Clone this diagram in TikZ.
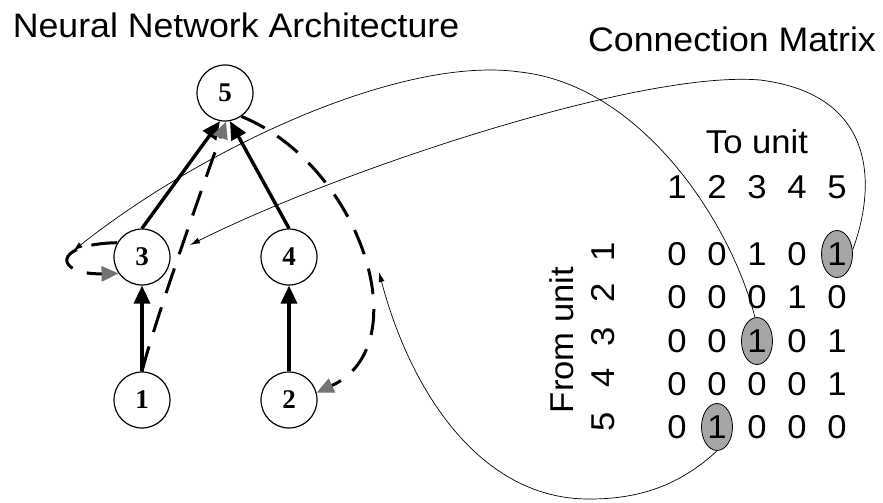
\documentclass[tikz,border=0pt]{standalone}
\usepackage{fontspec}
\setmainfont{Liberation Sans}
\newfontfamily\labelfont[FakeStretch=1.05]{Liberation Sans}
\newfontfamily\unitfont{Liberation Serif}
\usetikzlibrary{arrows.meta,shapes.geometric}

\begin{document}
\begin{tikzpicture}[x=1pt,y=-1pt,
  neuron/.style={circle,draw,line width=1.2pt,minimum size=56pt,inner sep=0pt,
    font=\unitfont\bfseries\fontsize{27}{27}\selectfont},
  feed/.style={line width=3.4pt,-{Triangle[length=18pt,width=16pt]}},
  recur/.style={line width=3pt,dash pattern=on 26pt off 15pt,
    -{Triangle[length=17pt,width=15pt,color=black!55]}},
  pointer/.style={line width=0.7pt,-{Latex[length=10pt,width=6pt]}},
  heading/.style={font=\labelfont\fontsize{34}{34}\selectfont,inner sep=0pt},
  mtext/.style={font=\labelfont\fontsize{33}{33}\selectfont,inner sep=0pt},
  plain/.style={},
  hot/.style={ellipse,draw,line width=0.8pt,fill=black!35,
    minimum width=31pt,minimum height=47pt,inner sep=0pt}
]
\useasboundingbox (0,0) rectangle (883,503);

% titles
\node[heading] (ttlnet) at (236,25) {Neural Network Architecture};
\node[heading] (ttlmat) at (732,39) {Connection Matrix};

% network units
\node[neuron] (n5) at (225,93)  {5};
\node[neuron] (n3) at (142,257) {3};
\node[neuron] (n4) at (289,257) {4};
\node[neuron] (n1) at (142,400) {1};
\node[neuron] (n2) at (289,400) {2};

% feed-forward connections
\draw[feed] (n1) -- (n3);
\draw[feed] (n2) -- (n4);
\draw[feed] (n3.north) -- (n5.-100);
\draw[feed] (n4.north) -- (n5.-80);

% recurrent / skip connections
\draw[recur] (n1.north) .. controls (155,320) and (205,180) .. (n5.-88);
\draw[recur] (n5.-55) .. controls (360,165) and (420,345) .. (n2.15);
\draw[recur] (n3.150) .. controls (50,244) and (55,275) .. (n3.215);

% connection matrix
\node[mtext] (tolbl) at (757,142) {To unit};
\node[mtext,rotate=90] (fromlbl) at (562,340) {From unit};
\foreach \c in {1,...,5}
  \node[mtext] (h\c) at ({677+40*(\c-1)},187) {\c};
\foreach \r/\y in {1/252,2/293,3/337,4/378,5/422}
  \node[mtext,rotate=90] (r\r) at (603,\y) {\r};
\foreach \r/\y/\vals in {
  1/254/{0/plain,0/plain,1/plain,0/plain,1/hot},
  2/297/{0/plain,0/plain,0/plain,1/plain,0/plain},
  3/341/{0/plain,0/plain,1/hot,0/plain,1/plain},
  4/384/{0/plain,0/plain,0/plain,0/plain,1/plain},
  5/427/{0/plain,1/hot,0/plain,0/plain,0/plain}}
  \foreach \v/\s [count=\c] in \vals
    \node[mtext,\s] (m\r\c) at ({677+40*(\c-1)},\y) {\v};

% pointers from matrix entries to the connections they encode
\coordinate (t15) at (190,245);
\coordinate (t33) at (73,251);
\coordinate (t52) at (379,272);
\draw[pointer] (m15.15) .. controls (875,190) and (880,95) .. (760,80)
  .. controls (640,70) and (340,170) .. (t15);
\draw[pointer] (m33.95) .. controls (730,220) and (640,85) .. (520,72)
  .. controls (400,55) and (200,150) .. (t33);
\draw[pointer] (m52.south) .. controls (680,485) and (640,499) .. (590,499)
  .. controls (480,500) and (410,390) .. (t52);
\end{tikzpicture}
\end{document}
